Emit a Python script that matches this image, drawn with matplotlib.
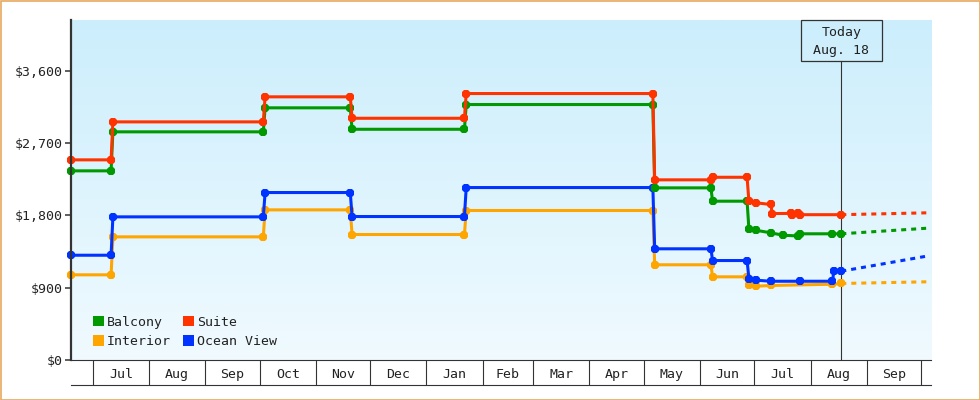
import matplotlib
matplotlib.use('Agg')
import matplotlib.pyplot as plt
import matplotlib.dates as mdates
import numpy as np
from matplotlib.patches import Patch, Rectangle
from matplotlib.colors import LinearSegmentedColormap

plt.rcParams['font.family'] = ['DejaVu Sans Mono']
plt.rcParams['font.size'] = 9.5
plt.rcParams['lines.scale_dashes'] = False

# ---------------- data ----------------
balcony_dates = ['2022-06-19', '2022-07-11', '2022-07-12', '2022-10-03', '2022-10-04',
                 '2022-11-20', '2022-11-21', '2023-01-22', '2023-01-23', '2023-05-06',
                 '2023-05-07', '2023-06-07', '2023-06-08', '2023-06-27', '2023-06-28',
                 '2023-07-02', '2023-07-10', '2023-07-17', '2023-07-25', '2023-07-26',
                 '2023-08-13', '2023-08-18']
balcony_prices = [2356, 2356, 2842, 2842, 3141, 3141, 2874, 2874, 3182, 3182,
                  2144, 2144, 1978, 1978, 1634, 1616, 1584, 1554, 1545, 1572,
                  1572, 1572]

suite_dates = ['2022-06-19', '2022-07-11', '2022-07-12', '2022-10-03', '2022-10-04',
               '2022-11-20', '2022-11-21', '2023-01-22', '2023-01-23', '2023-05-06',
               '2023-05-07', '2023-06-07', '2023-06-08', '2023-06-27', '2023-06-28',
               '2023-07-02', '2023-07-10', '2023-07-11', '2023-07-21', '2023-07-22',
               '2023-07-25', '2023-07-26', '2023-08-18']
suite_prices = [2493, 2493, 2966, 2966, 3278, 3278, 3011, 3011, 3319, 3319,
                2244, 2244, 2276, 2276, 1978, 1958, 1937, 1824, 1826, 1806,
                1826, 1810, 1810]

ocean_dates = ['2022-06-19', '2022-07-11', '2022-07-12', '2022-10-03', '2022-10-04',
               '2022-11-20', '2022-11-21', '2023-01-22', '2023-01-23', '2023-05-06',
               '2023-05-07', '2023-06-07', '2023-06-08', '2023-06-27', '2023-06-28',
               '2023-07-02', '2023-07-10', '2023-07-26', '2023-08-13', '2023-08-14',
               '2023-08-18']
ocean_prices = [1305, 1305, 1783, 1783, 2086, 2086, 1787, 1787, 2148, 2148,
                1385, 1385, 1239, 1239, 1015, 994, 981, 981, 981, 1106, 1106]

interior_dates = ['2022-06-19', '2022-07-11', '2022-07-12', '2022-10-03', '2022-10-04',
                  '2022-11-20', '2022-11-21', '2023-01-22', '2023-01-23', '2023-05-06',
                  '2023-05-07', '2023-06-07', '2023-06-08', '2023-06-27', '2023-06-28',
                  '2023-07-02', '2023-07-10', '2023-08-13', '2023-08-18']
interior_prices = [1061, 1061, 1534, 1534, 1870, 1870, 1563, 1563, 1862, 1862,
                   1186, 1186, 1036, 1036, 940, 919, 928, 944, 953]

today = '2023-08-18'
today_label = ['Today', 'Aug. 18']
forecast_end = '2023-10-04'
forecast_end_balcony = 1641
forecast_end_suite = 1833
forecast_end_ocean = 1293
forecast_end_interior = 974

month_starts = ['2022-07-01', '2022-08-01', '2022-09-01', '2022-10-01', '2022-11-01',
                '2022-12-01', '2023-01-01', '2023-02-01', '2023-03-01', '2023-04-01',
                '2023-05-01', '2023-06-01', '2023-07-01', '2023-08-01', '2023-09-01',
                '2023-10-01']
month_labels = ['Jul', 'Aug', 'Sep', 'Oct', 'Nov', 'Dec', 'Jan', 'Feb', 'Mar', 'Apr',
                'May', 'Jun', 'Jul', 'Aug', 'Sep']

y_ticks = [0, 900, 1800, 2700, 3600]
y_tick_labels = ['$0', '$900', '$1,800', '$2,700', '$3,600']

x_start = '2022-06-18 21:00'
x_end = '2023-10-06 12:00'
y_max = 4235

colors = {'Balcony': '#009900', 'Interior': '#FFA500', 'Suite': '#FF3300',
          'Ocean View': '#0033FF'}
dark = '#333333'

# ---------------- figure ----------------
W, H = 980, 400
fig = plt.figure(figsize=(W / 100, H / 100), dpi=100)
fig.patch.set_facecolor('white')
fig.add_artist(Rectangle((0.5 / W, 0.5 / H), 979 / W, 399 / H, transform=fig.transFigure,
                         fill=False, edgecolor='#E8A860', linewidth=1.2))

ax_l, ax_r, ax_t, ax_b = 71, 931, 20, 360
ax = fig.add_axes([ax_l / W, (H - ax_b) / H, (ax_r - ax_l) / W, (ax_b - ax_t) / H])
ax.set_facecolor('none')

d2n = mdates.datestr2num

# gradient background
cmap = LinearSegmentedColormap.from_list('bg', ['#F0FAFF', '#CCEEFC'])
grad = np.linspace(0, 1, 256).reshape(-1, 1)
ax.imshow(grad, cmap=cmap, extent=[0, 1, 0, 1], transform=ax.transAxes,
          aspect='auto', origin='lower', zorder=0, interpolation='bilinear')

series = [
    ('Interior', interior_dates, interior_prices, forecast_end_interior),
    ('Ocean View', ocean_dates, ocean_prices, forecast_end_ocean),
    ('Balcony', balcony_dates, balcony_prices, forecast_end_balcony),
    ('Suite', suite_dates, suite_prices, forecast_end_suite),
]

t_num = d2n(today)
# today line
ax.axvline(t_num, ymin=0, ymax=(ax_b - 60.7) / (ax_b - ax_t), color=dark, lw=0.8, zorder=2)

for i, (name, ds, ps, fend) in enumerate(series):
    c = colors[name]
    ax.plot([t_num, d2n(forecast_end)], [ps[-1], fend], color=c, lw=2.2,
            linestyle=(0, (3.6, 3.6)), zorder=3 + i, solid_capstyle='butt',
            dash_capstyle='butt')
    ax.plot(d2n(ds), ps, color=c, lw=2.2, marker='8', markersize=6.6,
            markeredgewidth=0, zorder=3 + i, clip_on=False)

ax.set_xlim(d2n(x_start), d2n(x_end))
ax.set_ylim(0, y_max)

# y axis
ax.set_yticks(y_ticks)
ax.set_yticklabels(y_tick_labels)
ax.tick_params(axis='y', length=4.5, width=1.1, color=dark, pad=1.5, labelcolor='#222222')
for s in ['top', 'right']:
    ax.spines[s].set_visible(False)
ax.spines['left'].set_color(dark)
ax.spines['left'].set_linewidth(1.6)
ax.spines['left'].set_zorder(10)
ax.spines['bottom'].set_color(dark)
ax.spines['bottom'].set_linewidth(0.8)

# x axis: separators at month starts, labels at month centres
ms = d2n(month_starts)
mids = (ms[:-1] + ms[1:]) / 2
ax.set_xticks(ms, minor=True)
ax.set_xticks(mids)
ax.set_xticklabels(month_labels)
ax.tick_params(axis='x', which='minor', length=18, width=0.8, color=dark, direction='out')
ax.tick_params(axis='x', which='major', length=0, pad=5.5, labelcolor='#222222')
ax.plot([0, 1], [-25 / (ax_b - ax_t)] * 2, transform=ax.transAxes, clip_on=False,
        color=dark, lw=0.8)

# today box
box_w_days = 81 / ((ax_r - ax_l) / (d2n(x_end) - d2n(x_start)))
ax.add_patch(Rectangle((t_num - box_w_days / 2, (ax_b - 60.7) / (ax_b - ax_t)), box_w_days,
                       40.7 / (ax_b - ax_t), transform=ax.get_xaxis_transform(),
                       fill=False, edgecolor=dark, lw=0.9, clip_on=False, zorder=12))
ax.text(t_num, (ax_b - 32.7) / (ax_b - ax_t), today_label[0], transform=ax.get_xaxis_transform(),
        ha='center', va='center', color='#222222', zorder=12)
ax.text(t_num, (ax_b - 50.7) / (ax_b - ax_t), today_label[1], transform=ax.get_xaxis_transform(),
        ha='center', va='center', color='#222222', zorder=12)

# legend
legend_order = ['Balcony', 'Interior', 'Suite', 'Ocean View']
handles = [Patch(facecolor=colors[n], edgecolor='none') for n in legend_order]
leg = ax.legend(handles, legend_order, ncol=2, loc='lower left',
                bbox_to_anchor=((92.7 - ax_l) / (ax_r - ax_l), 0.035), frameon=False,
                handlelength=0.85, handleheight=0.85, handletextpad=0.2,
                columnspacing=0.95, labelspacing=0.5, borderpad=0, borderaxespad=0)
for t in leg.get_texts():
    t.set_color('#222222')

fig.savefig('out.png', dpi=100)
